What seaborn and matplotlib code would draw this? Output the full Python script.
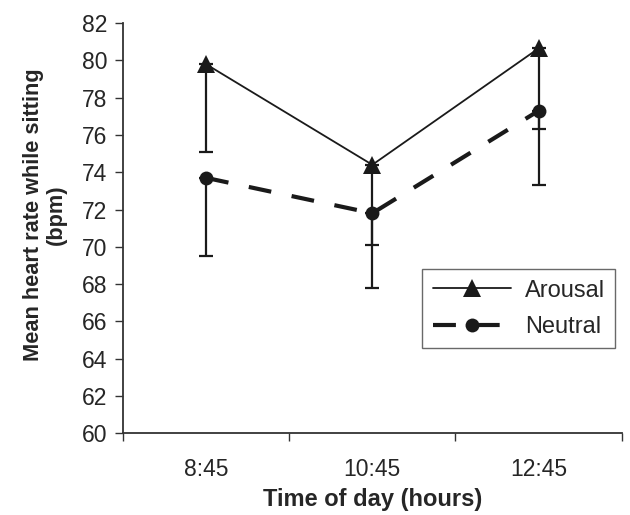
import pandas as pd
import matplotlib.pyplot as plt
import seaborn as sns

# ---------------------------------------------------------------
# Data
# ---------------------------------------------------------------
times = ["8:45", "10:45", "12:45"]
arousal_mean = [79.8, 74.4, 80.65]
arousal_low = [75.1, 70.1, 76.3]
neutral_mean = [73.7, 71.8, 77.3]
neutral_low = [69.5, 67.8, 73.3]

# ---------------------------------------------------------------
# Build long-form table
# ---------------------------------------------------------------
rows = []
for cond, means, lows in [("Arousal", arousal_mean, arousal_low),
                          ("Neutral", neutral_mean, neutral_low)]:
    for i, t in enumerate(times):
        rows.append({"pos": i, "time": t, "condition": cond,
                     "mean": means[i], "low": lows[i]})
df = pd.DataFrame(rows)

sns.set_style("white")
plt.rcParams["font.family"] = ["Liberation Sans", "DejaVu Sans"]

fig = plt.figure(figsize=(6.3, 5.15), dpi=100)
ax = fig.add_axes([0.195, 0.159, 0.792, 0.796])

# error bars first (one-sided, lower only)
for cond in ["Arousal", "Neutral"]:
    sub = df[df["condition"] == cond]
    ax.errorbar(sub["pos"], sub["mean"],
                yerr=[sub["mean"] - sub["low"], [0] * len(sub)],
                fmt="none", ecolor="#1a1a1a", elinewidth=1.6,
                capsize=5, capthick=1.6, zorder=2)

sns.lineplot(data=df, x="pos", y="mean", hue="condition", style="condition",
             size="condition",
             palette={"Arousal": "#1a1a1a", "Neutral": "#1a1a1a"},
             markers={"Arousal": "^", "Neutral": "o"},
             dashes={"Arousal": "", "Neutral": (5.5, 5)},
             sizes={"Arousal": 1.3, "Neutral": 3.0},
             markersize=11, markeredgewidth=0, ax=ax, zorder=3)

marker_sizes = {"^": 12.5, "o": 10}


def fix_markers(lines):
    for ln in lines:
        m = ln.get_marker()
        if m in marker_sizes:
            ln.set_markersize(marker_sizes[m])


fix_markers(ax.lines)

# axes styling
ax.set_ylim(60, 82)
ax.set_yticks(range(60, 83, 2))
ax.set_xlim(-0.5, 2.5)
ax.set_xticks([0, 1, 2])
ax.set_xticklabels(times)
ax.set_xticks([-0.5, 0.5, 1.5, 2.5], minor=True)
ax.tick_params(axis="x", which="major", length=0, labelsize=16.5, pad=18)
ax.tick_params(axis="x", which="minor", length=6, width=1, color="#333333",
               direction="out", bottom=True)
ax.tick_params(axis="y", length=6, width=1, color="#333333", direction="out",
               left=True, labelsize=16.5, pad=5)
for s in ["top", "right"]:
    ax.spines[s].set_visible(False)
for s in ["left", "bottom"]:
    ax.spines[s].set_color("#333333")
    ax.spines[s].set_linewidth(1.3)

ax.set_xlabel("Time of day (hours)", fontsize=17, fontweight="bold", labelpad=5)
ax.set_ylabel("Mean heart rate while sitting\n(bpm)", fontsize=15.7,
              fontweight="bold", linespacing=1.1)
ax.yaxis.set_label_coords(-0.113, 0.534)

handles, labels = ax.get_legend_handles_labels()
leg = ax.legend(handles, labels, loc="upper left",
                bbox_to_anchor=(422 / 630, 1 - 269 / 515),
                bbox_transform=fig.transFigure, borderaxespad=0,
                fontsize=17, handlelength=3.3, frameon=True, fancybox=False,
                edgecolor="#444444", borderpad=0.45, labelspacing=0.6,
                handletextpad=0.6)
leg.get_frame().set_linewidth(1.0)
fix_markers(leg.get_lines())

plt.savefig("out.png", dpi=100)
